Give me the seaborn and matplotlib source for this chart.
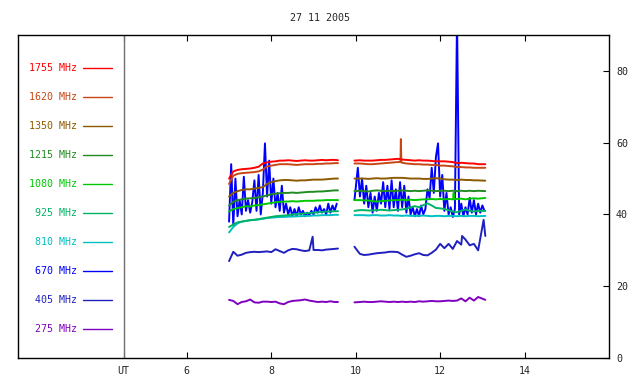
import matplotlib
matplotlib.use("Agg")
import matplotlib.pyplot as plt
import pandas as pd
import seaborn as sns

# frequencies (MHz), top of legend first
FREQS = ["1755", "1620", "1350", "1215", "1080", "925", "810", "670", "405", "275"]
COLORS = ["#ff0000", "#c84614", "#8c5a00", "#228b22", "#00c800",
          "#00b464", "#00c0c0", "#0000ff", "#2020c0", "#8000c0"]

# time grids (UT hours) for the two observing segments
T1 = [7.0, 7.1, 7.2, 7.3, 7.4, 7.5, 7.6, 7.7, 7.8, 7.9, 8.0, 8.1, 8.2, 8.3,
      8.4, 8.5, 8.6, 8.7, 8.8, 8.9, 9.0, 9.1, 9.2, 9.3, 9.4, 9.5, 9.58]
T2 = [9.97, 10.1, 10.2, 10.3, 10.4, 10.5, 10.6, 10.7, 10.8, 10.9, 11.0, 11.1,
      11.2, 11.3, 11.4, 11.5, 11.6, 11.7, 11.8, 11.9, 12.0, 12.1, 12.2, 12.3,
      12.4, 12.5, 12.6, 12.7, 12.8, 12.9, 13.07]
# finer grid for the noisy 670 MHz channel
TF1 = [7.0, 7.05, 7.1, 7.15, 7.2, 7.25, 7.3, 7.35, 7.4, 7.45, 7.5, 7.55, 7.6,
       7.65, 7.7, 7.75, 7.8, 7.85, 7.9, 7.95, 8.0, 8.05, 8.1, 8.15, 8.2, 8.25,
       8.3, 8.35, 8.4, 8.45, 8.5, 8.55, 8.6, 8.65, 8.7, 8.75, 8.8, 8.85, 8.9,
       8.95, 9.0, 9.05, 9.1, 9.15, 9.2, 9.25, 9.3, 9.35, 9.4, 9.45, 9.5, 9.55]
TF2 = [9.97, 10.05, 10.1, 10.15, 10.2, 10.25, 10.3, 10.35, 10.4, 10.45, 10.5,
       10.55, 10.6, 10.65, 10.7, 10.75, 10.8, 10.85, 10.9, 10.95, 11.0, 11.05,
       11.1, 11.15, 11.2, 11.25, 11.3, 11.35, 11.4, 11.45, 11.5, 11.55, 11.6,
       11.65, 11.7, 11.75, 11.8, 11.85, 11.9, 11.95, 12.0, 12.05, 12.1, 12.15,
       12.2, 12.25, 12.3, 12.35, 12.4, 12.45, 12.5, 12.55, 12.6, 12.65, 12.7,
       12.75, 12.8, 12.85, 12.9, 12.95, 13.0, 13.05]

# flux values (sfu)
F1755_A = [50.0, 52.0, 52.4, 52.6, 52.7, 52.8, 53.0, 53.3, 54.2, 54.5,
           54.7, 54.8, 55.0, 55.0, 55.1, 55.0, 54.9, 55.0, 55.1, 55.0,
           55.0, 55.1, 55.2, 55.1, 55.2, 55.2, 55.1]
F1755_B = [55.0, 55.1, 55.0, 55.0, 55.0, 55.1, 55.2, 55.2, 55.3, 55.4,
           55.5, 55.3, 55.2, 55.1, 55.0, 55.1, 55.0, 55.0, 54.9, 54.8,
           54.8, 54.8, 54.7, 54.6, 54.3, 54.4, 54.3, 54.2, 54.2, 54.0, 54.0]
F1620_A = [48.5, 50.8, 51.3, 51.5, 51.6, 51.7, 51.8, 52.0, 52.5, 53.4,
           53.6, 53.8, 54.0, 54.0, 54.0, 53.9, 53.8, 53.9, 54.0, 54.0,
           54.0, 54.1, 54.1, 54.2, 54.2, 54.3, 54.3]
F1620_B = [54.2, 54.2, 54.1, 54.0, 54.0, 54.1, 54.2, 54.3, 54.4, 54.5,
           54.6, 54.4, 54.2, 54.1, 54.0, 54.0, 53.9, 53.9, 53.8, 53.8,
           53.6, 53.6, 53.5, 53.4, 53.2, 53.2, 53.1, 53.1, 53.0, 53.0, 53.0]
F1620_SPIKE = [(11.06, 54.6), (11.07, 61.0), (11.08, 54.5)]
F1350_A = [45.0, 46.0, 46.5, 46.8, 47.0, 47.0, 47.2, 47.4, 47.6, 48.5,
           49.0, 49.3, 49.5, 49.6, 49.6, 49.5, 49.4, 49.5, 49.5, 49.6,
           49.7, 49.7, 49.7, 49.8, 49.9, 50.0, 50.0]
F1350_B = [50.0, 50.0, 50.0, 49.9, 50.0, 50.1, 50.0, 50.0, 50.1, 50.2,
           50.2, 50.2, 50.1, 50.0, 50.0, 50.0, 49.9, 49.9, 50.0, 50.1,
           50.0, 49.8, 49.7, 49.7, 49.6, 49.7, 49.6, 49.6, 49.5, 49.5, 49.4]
F1215_A = [42.5, 43.5, 44.0, 44.2, 44.4, 44.5, 44.6, 44.8, 45.0, 45.3,
           45.6, 45.8, 45.9, 46.0, 46.0, 46.1, 46.0, 46.1, 46.2, 46.3,
           46.3, 46.4, 46.4, 46.5, 46.6, 46.7, 46.7]
F1215_B = [46.5, 46.6, 46.5, 46.4, 46.6, 46.7, 46.6, 46.5, 46.6, 46.5,
           46.6, 46.7, 46.6, 46.5, 46.6, 46.5, 46.6, 46.7, 46.6, 46.5,
           46.6, 46.6, 46.5, 46.6, 46.5, 46.6, 46.5, 46.6, 46.5, 46.6, 46.5]
F1080_A = [40.8, 41.5, 41.8, 42.0, 42.3, 42.2, 42.5, 42.6, 42.8, 43.0,
           43.2, 43.4, 43.5, 43.6, 43.6, 43.7, 43.6, 43.7, 43.8, 43.8,
           43.8, 43.9, 43.9, 44.0, 44.0, 44.0, 44.0]
F1080_B = [44.0, 44.0, 43.9, 43.9, 43.7, 43.6, 43.7, 43.8, 43.9, 44.0,
           44.0, 44.1, 44.0, 44.1, 44.0, 44.1, 44.2, 44.2, 44.3, 44.2,
           44.3, 44.2, 44.3, 44.2, 44.3, 44.4, 44.2, 44.4, 44.5, 44.4, 44.6]
F1080_SPIKE = [(12.31, 44.2), (12.32, 46.0), (12.33, 44.2)]
F925_A = [36.5, 37.2, 37.8, 38.0, 38.2, 38.4, 38.5, 38.7, 38.9, 39.1,
          39.3, 39.5, 39.6, 39.7, 39.8, 40.0, 40.1, 40.2, 40.3, 40.4,
          40.5, 40.6, 40.7, 40.8, 40.8, 40.9, 40.9]
F925_B = [41.0, 41.2, 41.2, 41.1, 41.1, 41.2, 41.3, 41.2, 41.1, 41.2,
          41.3, 41.4, 41.6, 42.0, 42.3, 42.0, 42.6, 43.1, 42.5, 41.8,
          41.7, 41.5, 41.2, 40.8, 40.6, 41.0, 41.4, 41.0, 40.8, 41.0, 41.0]
F810_A = [35.0, 36.5, 37.5, 38.0, 38.2, 38.4, 38.5, 38.6, 38.8, 39.0,
          39.1, 39.2, 39.3, 39.3, 39.4, 39.4, 39.5, 39.5, 39.6, 39.6,
          39.7, 39.7, 39.8, 39.8, 39.8, 39.9, 39.9]
F810_B = [39.8, 39.8, 39.8, 39.7, 39.8, 39.8, 39.7, 39.7, 39.8, 39.7,
          39.7, 39.6, 39.7, 39.6, 39.6, 39.6, 39.7, 39.6, 39.5, 39.6,
          39.6, 39.5, 39.6, 39.6, 39.5, 39.6, 39.5, 39.6, 39.6, 39.5, 39.6]
F670_A = [38.0, 54.0, 37.0, 50.0, 39.5, 44.0, 40.0, 50.5, 41.0, 44.0,
          40.5, 43.5, 49.5, 41.0, 51.0, 40.0, 46.0, 59.8, 45.0, 55.0,
          43.0, 50.0, 42.0, 46.0, 41.0, 48.0, 40.5, 43.0, 40.0, 42.0,
          39.5, 41.5, 39.5, 42.0, 40.0, 41.0, 39.5, 40.5, 39.8, 41.0,
          40.0, 42.0, 40.5, 42.5, 40.5, 41.5, 40.0, 43.0, 40.5, 42.5,
          41.0, 43.0]
F670_B = [44.0, 53.0, 45.0, 50.0, 43.0, 48.0, 42.0, 46.0, 40.5, 45.0,
          41.0, 46.0, 43.0, 49.0, 42.0, 48.0, 41.5, 49.5, 42.0, 47.0,
          41.0, 49.0, 42.0, 48.0, 40.5, 45.0, 40.0, 42.0, 39.5, 41.5,
          39.5, 42.5, 40.0, 41.5, 47.0, 44.6, 53.0, 46.0, 56.0, 59.8,
          45.0, 51.0, 41.0, 46.0, 40.0, 42.0, 39.3, 41.5, 95.0, 40.0,
          43.0, 39.5, 42.0, 40.0, 44.6, 40.5, 44.0, 40.0, 43.0, 40.5,
          42.5, 41.0]
F405_A = [27.0, 29.6, 28.5, 28.8, 29.3, 29.5, 29.6, 29.5, 29.6, 29.7,
          29.5, 30.3, 29.8, 29.3, 30.0, 30.4, 30.3, 30.0, 29.8, 30.0,
          30.1, 30.1, 30.0, 30.2, 30.3, 30.4, 30.5]
F405_SPIKE_A = [(8.98, 33.8)]
F405_B = [31.0, 29.0, 28.7, 28.8, 29.0, 29.2, 29.3, 29.4, 29.6, 29.6,
          29.5, 28.8, 28.2, 28.5, 28.9, 29.2, 28.7, 28.6, 29.3, 30.2,
          31.8, 30.6, 31.8, 30.4, 32.6, 31.6, 33.0, 31.4, 31.8, 30.0, 34.0]
F405_SPIKE_B = [(12.52, 34.0), (13.03, 38.5)]
F275_A = [16.2, 15.9, 15.0, 15.6, 15.8, 16.3, 15.5, 15.4, 15.7, 15.7,
          15.6, 15.7, 15.2, 15.0, 15.6, 15.9, 16.0, 16.1, 16.3, 16.0,
          15.8, 15.6, 15.7, 15.6, 15.8, 15.6, 15.6]
F275_B = [15.5, 15.6, 15.7, 15.6, 15.6, 15.7, 15.8, 15.7, 15.6, 15.7,
          15.6, 15.7, 15.6, 15.7, 15.6, 15.8, 15.7, 15.8, 15.9, 15.8,
          15.8, 15.9, 16.0, 15.9, 16.0, 16.6, 15.8, 16.8, 16.0, 17.0, 16.2]


def seg(times, values, extra=()):
    assert len(times) == len(values)
    return sorted(list(zip(times, values)) + list(extra))


series = {
    "1755": [seg(T1, F1755_A), seg(T2, F1755_B)],
    "1620": [seg(T1, F1620_A), seg(T2, F1620_B, F1620_SPIKE)],
    "1350": [seg(T1, F1350_A), seg(T2, F1350_B)],
    "1215": [seg(T1, F1215_A), seg(T2, F1215_B)],
    "1080": [seg(T1, F1080_A), seg(T2, F1080_B, F1080_SPIKE)],
    "925": [seg(T1, F925_A), seg(T2, F925_B)],
    "810": [seg(T1, F810_A), seg(T2, F810_B)],
    "670": [seg(TF1, F670_A), seg(TF2, F670_B)],
    "405": [seg(T1, F405_A, F405_SPIKE_A), seg(T2, F405_B, F405_SPIKE_B)],
    "275": [seg(T1, F275_A), seg(T2, F275_B)],
}

rows = []
for freq, parts in series.items():
    for k, pts in enumerate(parts):
        for t, v in pts:
            rows.append({"freq": freq, "seg": k, "ut": t, "flux": v})
df = pd.DataFrame(rows)

sns.set_style("white")
plt.rcParams["font.family"] = ["DejaVu Sans Mono"]

palette = dict(zip(FREQS, COLORS))
fig = plt.figure(figsize=(6.4, 3.84), dpi=100)
ax = fig.add_axes([18 / 640, 26 / 384, 591 / 640, 323 / 384])

sns.lineplot(data=df, x="ut", y="flux", hue="freq", units="seg", estimator=None,
             hue_order=FREQS[::-1], palette=palette, legend=False,
             linewidth=1.4, ax=ax)

ax.axvline(4.5, color="#707070", lw=1.0)

# hand-made legend on the left
for i, (f, c) in enumerate(zip(FREQS, COLORS)):
    y = 80.8 - 8.08 * i
    ax.text(3.40, y, f"{f} MHz", color=c, ha="right", va="center", fontsize=7.2)
    ax.plot([3.54, 4.23], [y, y], color=c, lw=1.0)

ax.set_xlim(2, 16)
ax.set_ylim(0, 90)
ax.set_xticks([4.5, 6, 8, 10, 12, 14])
ax.set_xticklabels(["UT", "6", "8", "10", "12", "14"])
ax.set_yticks([0, 20, 40, 60, 80])
ax.yaxis.tick_right()
ax.tick_params(axis="x", direction="in", top=True, bottom=True, length=4,
               width=0.8, color="black", labelsize=7.2, pad=6)
ax.tick_params(axis="y", direction="in", right=True, left=False, length=4,
               width=0.8, color="black", labelsize=7.2, pad=5)
ax.set_xlabel("")
ax.set_ylabel("")
for s in ax.spines.values():
    s.set_color("black")
    s.set_linewidth(1.0)

fig.text(0.5, 1 - 18 / 384, "27 11 2005", ha="center", va="center", fontsize=7.2)

fig.savefig("out.png", dpi=100)
plt.close(fig)
